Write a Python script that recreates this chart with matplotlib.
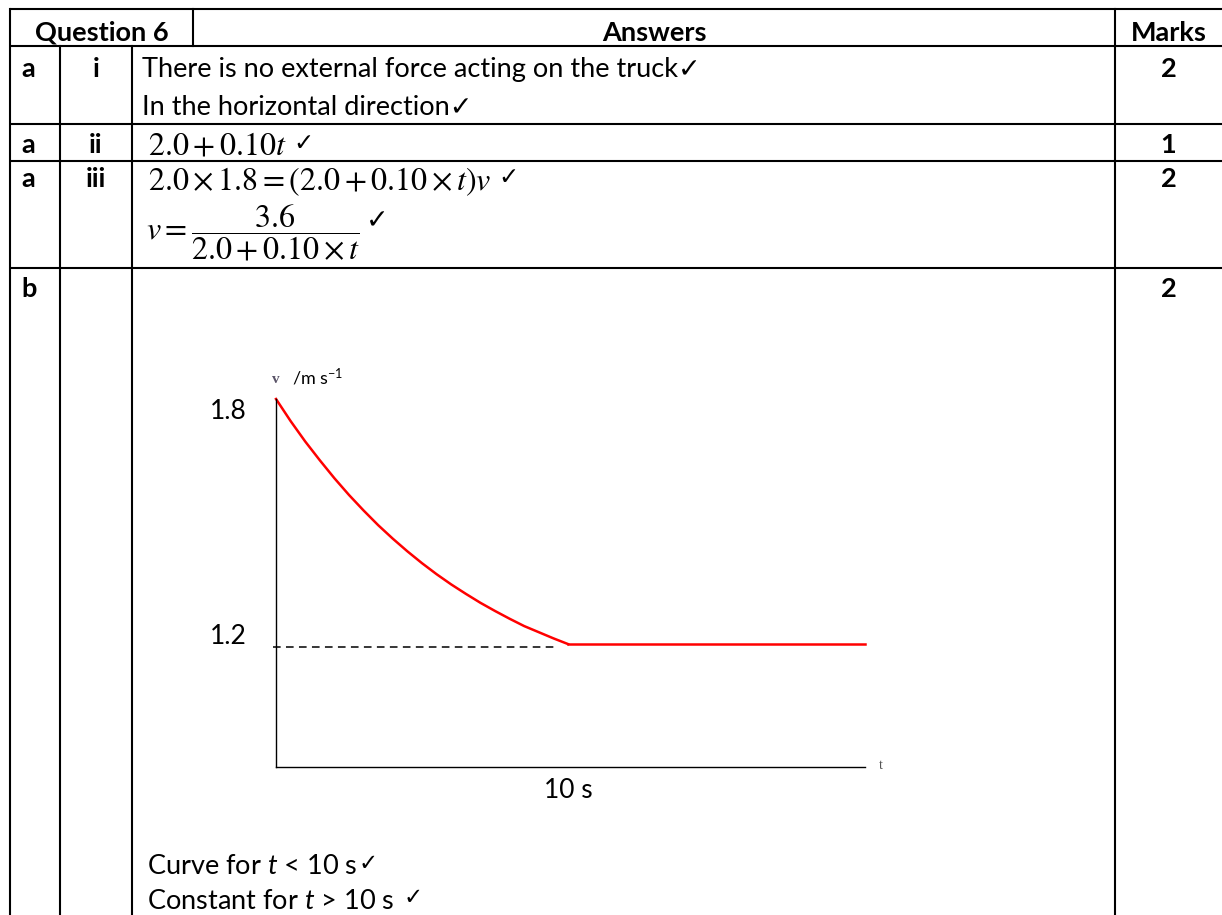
import matplotlib.pyplot as plt
from matplotlib import transforms

plt.rcParams['font.family'] = ['Lato', 'DejaVu Sans']
plt.rcParams['mathtext.fontset'] = 'custom'
plt.rcParams['mathtext.rm'] = 'Lato'
plt.rcParams['mathtext.it'] = 'Lato:italic'

W, H = 1222, 915
CHECK = "\u2713"

# table text
header = ["Question 6", "Answers", "Marks"]
part = ["a", "a", "a", "b"]
sub_part = ["i", "ii", "iii", ""]
marks = ["2", "1", "2", "2"]
answer_i = ["There is no external force acting on the truck" + CHECK,
            "In the horizontal direction" + CHECK]
answer_ii = r"$2.0+0.10t$"
answer_iii = [r"$2.0\times1.8=(2.0+0.10\times t)v$",
              r"$v=\dfrac{3.6}{2.0+0.10\times t}$"]
answer_b = ["Curve for $t$ < 10 s", "Constant for $t$ > 10 s "]

# sketch graph, values (v in m/s, t in s)
t_curve = [0, 0.5, 1, 1.5, 2, 2.5, 3, 3.5, 4, 4.5, 5,
           5.5, 6, 6.5, 7, 7.5, 8, 8.5, 9, 9.5, 10]
v_curve = [1.800, 1.746, 1.696, 1.650, 1.606, 1.565, 1.527, 1.491, 1.458, 1.427, 1.398,
           1.371, 1.346, 1.323, 1.301, 1.281, 1.262, 1.244, 1.229, 1.214, 1.200]
t_const = [10, 20.17]
v_const = [1.20, 1.20]
t_dash = [-0.1, 9.55]
v_dash = [1.193, 1.193]
v_marks = [1.8, 1.2]
t_marks = [10]

fig = plt.figure(figsize=[12.22, 9.15], dpi=100)
ax = fig.add_axes([0, 0, 1, 1])
ax.set_xlim(0, W)
ax.set_ylim(H, 0)
ax.axis('off')
renderer = fig.canvas.get_renderer()

# table grid (pixel coords)
xl, xa, xb, xh, xm = 10, 60, 132, 193, 1115
rows = [9, 46, 124, 161, 268]
lw = 1.5
for y in rows:
    ax.plot([xl, W], [y, y], color='k', lw=lw, solid_capstyle='butt')
ax.plot([xl, xl], [rows[0], H], color='k', lw=lw)
ax.plot([xa, xa], [rows[1], H], color='k', lw=lw)
ax.plot([xb, xb], [rows[1], H], color='k', lw=lw)
ax.plot([xh, xh], [rows[0], rows[1]], color='k', lw=lw)
ax.plot([xm, xm], [rows[0], H], color='k', lw=lw)

fs = 19.5
mfs = 23
va = 'center_baseline'
ax.text((xl + xh) / 2, 31, header[0], ha='center', va=va, fontsize=fs, fontweight='bold')
ax.text((xh + xm) / 2, 31, header[1], ha='center', va=va, fontsize=fs, fontweight='bold')
ax.text((xm + W) / 2, 31, header[2], ha='center', va=va, fontsize=fs, fontweight='bold')

row_text_y = [67, 143, 177, 287]
for i in range(4):
    ax.text(21, row_text_y[i], part[i], ha='left', va=va, fontsize=fs, fontweight='bold')
    ax.text((xa + xb) / 2, row_text_y[i], sub_part[i], ha='center', va=va, fontsize=fs, fontweight='bold')
    ax.text((xm + W) / 2, row_text_y[i], marks[i], ha='center', va=va, fontsize=fs, fontweight='bold')


def tick_after(txt, y, gap=6, size=fs):
    # put a check mark just right of an already placed text
    bb = txt.get_window_extent(renderer)
    ax.text(bb.x1 + gap, y, CHECK, ha='left', va=va, fontsize=size)


ax.text(142, 67, answer_i[0], ha='left', va=va, fontsize=fs)
ax.text(142, 105, answer_i[1], ha='left', va=va, fontsize=fs)
t2 = ax.text(148, 143, answer_ii, ha='left', va=va, fontsize=mfs, math_fontfamily='stix')
tick_after(t2, 141, gap=7, size=fs - 2)
t3 = ax.text(148, 178, answer_iii[0], ha='left', va=va, fontsize=mfs, math_fontfamily='stix')
tick_after(t3, 176, gap=7, size=fs - 2)
t4 = ax.text(146, 233, answer_iii[1], ha='left', va='center', fontsize=mfs, math_fontfamily='stix')
tick_after(t4, 218, gap=6, size=fs)
tb1 = ax.text(147, 864, answer_b[0], ha='left', va=va, fontsize=fs)
tick_after(tb1, 862, gap=1, size=fs - 3)
tb2 = ax.text(147, 899, answer_b[1], ha='left', va=va, fontsize=fs)
tick_after(tb2, 896, gap=8, size=fs - 3)

# graph inset
gx0, gx1, gy_top, gy_bot = 276, 865, 399, 767
g = fig.add_axes([gx0 / W, (H - gy_bot) / H, (gx1 - gx0) / W, (gy_bot - gy_top) / H])
g.set_xlim(0, 20.17)
g.set_ylim(0.899, 1.8)
for s in ['top', 'right']:
    g.spines[s].set_visible(False)
g.spines['left'].set_linewidth(1.0)
g.spines['bottom'].set_linewidth(1.0)
g.set_xticks([])
g.set_yticks([])
g.patch.set_alpha(0)

g.plot(t_curve, v_curve, color='red', lw=1.8, clip_on=False)
g.plot(t_const, v_const, color='red', lw=1.8, clip_on=False)
g.plot(t_dash, v_dash, color='k', lw=1.1, ls=(0, (5, 3.5)), clip_on=False)

lab = transforms.blended_transform_factory(g.transAxes, g.transData)
g.text(-0.05, v_marks[0], "1.8", transform=lab, ha='right', va='top', fontsize=fs - 0.5)
g.text(-0.05, v_marks[1], "1.2", transform=lab, ha='right', va='baseline', fontsize=fs - 0.5)
labx = transforms.blended_transform_factory(g.transData, g.transAxes)
g.text(t_marks[0], -0.03, "10 s", transform=labx, ha='center', va='top', fontsize=fs - 0.5)
g.text(0, 1.035, "v", transform=g.transAxes, ha='center', va='bottom', fontsize=11,
       family='Liberation Serif', fontweight='bold', color='#5a5468')
g.text(0.027, 1.03, "/m s$^{-1}$", transform=g.transAxes, ha='left', va='bottom', fontsize=13)
g.text(1.027, 0.005, "t", transform=g.transAxes, ha='center', va='center', fontsize=10,
       family='Liberation Serif', color='#555555')

plt.savefig('out.png', dpi=100)
